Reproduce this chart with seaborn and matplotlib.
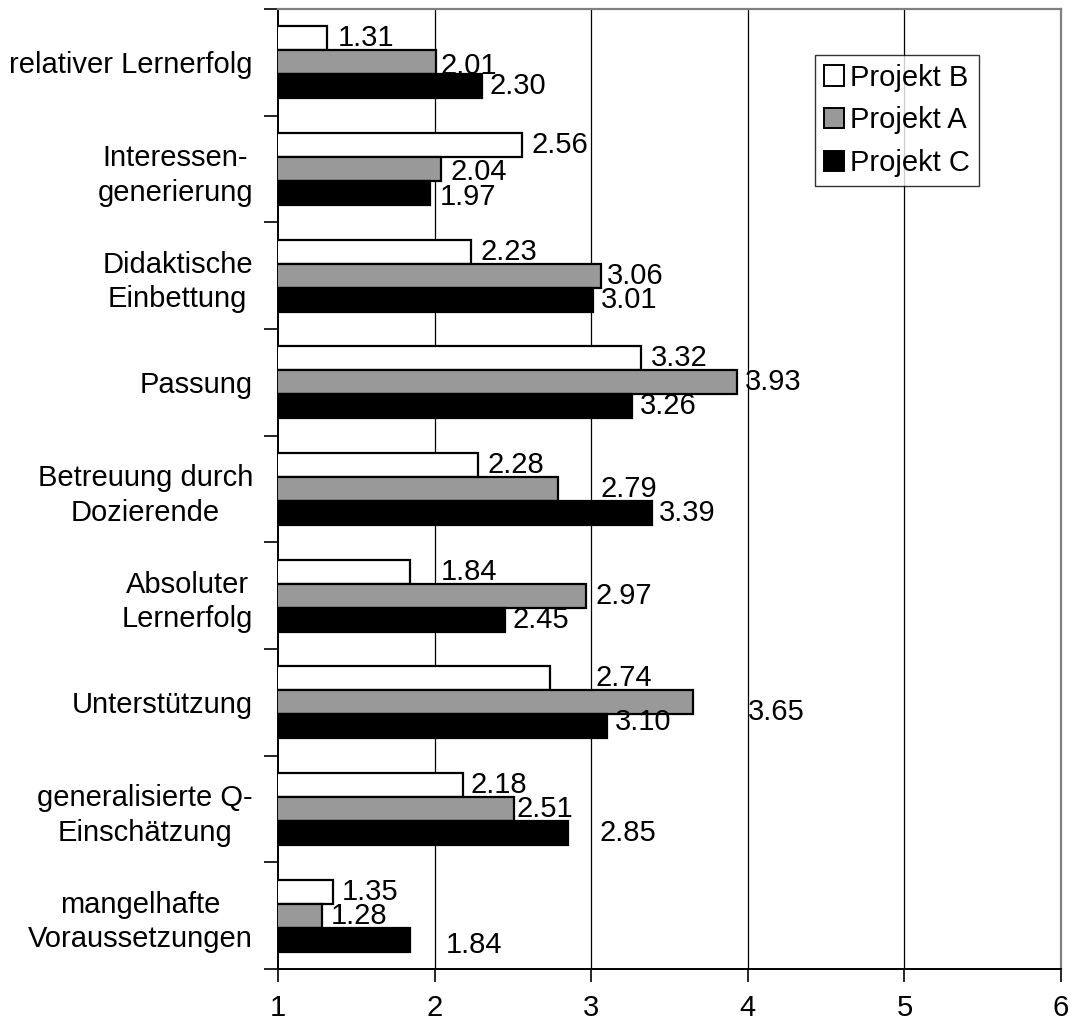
import numpy as np
import pandas as pd
import matplotlib
matplotlib.use("Agg")
import matplotlib.pyplot as plt
from matplotlib.patches import Patch
from matplotlib.ticker import FixedLocator
import seaborn as sns

categories = [
    "relativer Lernerfolg",
    "Interessen-\ngenerierung",
    "Didaktische\nEinbettung",
    "Passung",
    "Betreuung durch\nDozierende",
    "Absoluter\nLernerfolg",
    "Unterstützung",
    "generalisierte Q-\nEinschätzung",
    "mangelhafte\nVoraussetzungen",
]
projects = ["Projekt B", "Projekt A", "Projekt C"]
projekt_b = [1.31, 2.56, 2.23, 3.32, 2.28, 1.84, 2.74, 2.18, 1.35]
projekt_a = [2.01, 2.04, 3.06, 3.93, 2.79, 2.97, 3.65, 2.51, 1.28]
projekt_c = [2.30, 1.97, 3.01, 3.26, 3.39, 2.45, 3.10, 2.85, 1.84]
x_ticks = [1, 2, 3, 4, 5, 6]

# horizontal shift of each value label from its bar end (data units), per project
label_dx = [
    [0.07, 0.06, 0.06, 0.06, 0.06, 0.20, 0.29, 0.05, 0.06],
    [0.03, 0.06, 0.04, 0.05, 0.27, 0.06, 0.35, 0.01, 0.06],
    [0.05, 0.06, 0.05, 0.05, 0.04, 0.05, 0.05, 0.20, 0.23],
]
# vertical shift of each value label (category units)
label_dy = [
    [0.0] * 9,
    [0.03, 0.03, 0.0, 0.0, 0.0, 0.0, 0.09, 0.0, 0.0],
    [0.0, 0.04, 0.0, 0.0, 0.0, 0.0, -0.04, 0.0, 0.05],
]

colors = ["white", "#999999", "black"]

df = pd.DataFrame({
    "Kategorie": categories * 3,
    "Projekt": [p for p in projects for _ in categories],
    "Wert": projekt_b + projekt_a + projekt_c,
})

sns.set_style("white")
plt.rcParams["font.family"] = ["Liberation Sans", "DejaVu Sans"]
plt.rcParams["text.color"] = "black"
plt.rcParams["xtick.color"] = "black"
plt.rcParams["ytick.color"] = "black"
plt.rcParams["axes.labelcolor"] = "black"
fs = 21

fig = plt.figure(figsize=(10.70, 10.24), dpi=100)
ax = fig.add_axes([0.2598, 0.0537, 0.9916 - 0.2598, 0.9912 - 0.0537])

sns.barplot(
    data=df, y="Kategorie", x="Wert", hue="Projekt",
    hue_order=projects, palette=colors, orient="h",
    width=0.675, edgecolor="black", linewidth=1.6,
    saturation=1, legend=False, ax=ax, zorder=3,
)

ax.set_xlim(1, 6)
ax.set_ylim(len(categories) - 0.5, -0.5)
ax.set_xticks(x_ticks)
ax.set_xticklabels([str(t) for t in x_ticks], fontsize=fs)
ax.set_xlabel("")
ax.set_ylabel("")

# category labels at centres, tick marks at group boundaries
ax.set_yticks(range(len(categories)))
ax.set_yticklabels(categories, fontsize=fs, multialignment="center", linespacing=1.3)
ax.tick_params(axis="y", which="major", left=True, length=0, pad=18)
ax.yaxis.set_minor_locator(FixedLocator(np.arange(-0.5, len(categories), 1.0)))
ax.tick_params(axis="y", which="minor", left=True, length=10, width=1.2,
               color="black", direction="out")
ax.tick_params(axis="x", which="major", bottom=True, length=9, width=1.2,
               color="black", direction="out", pad=9)

# vertical grid lines
for xv in x_ticks[1:-1]:
    ax.axvline(xv, color="black", linewidth=0.9, zorder=1)

for side in ["left", "bottom"]:
    ax.spines[side].set_color("black")
    ax.spines[side].set_linewidth(1.4)
for side in ["top", "right"]:
    ax.spines[side].set_color("#808080")
    ax.spines[side].set_linewidth(1.6)

# value labels
series = [projekt_b, projekt_a, projekt_c]
for k, cont in enumerate(ax.containers):
    for i, patch in enumerate(cont.patches):
        yc = patch.get_y() + patch.get_height() / 2
        val = series[k][i]
        ax.text(val + label_dx[k][i], yc + label_dy[k][i], f"{val:.2f}",
                fontsize=fs, ha="left", va="center", zorder=4)

handles = [Patch(facecolor=c, edgecolor="black", linewidth=1.4) for c in colors]
leg = ax.legend(handles, projects, loc="upper left",
                bbox_to_anchor=((815 - 278) / (1061 - 278), 1 - (55 - 9) / 960),
                fontsize=fs, frameon=True, fancybox=False, edgecolor="black",
                handlelength=0.7, handleheight=0.7, handletextpad=0.2,
                borderpad=0.3, labelspacing=0.5, borderaxespad=0)
leg.get_frame().set_linewidth(1.0)

fig.savefig("out.png", dpi=100, facecolor="white")
